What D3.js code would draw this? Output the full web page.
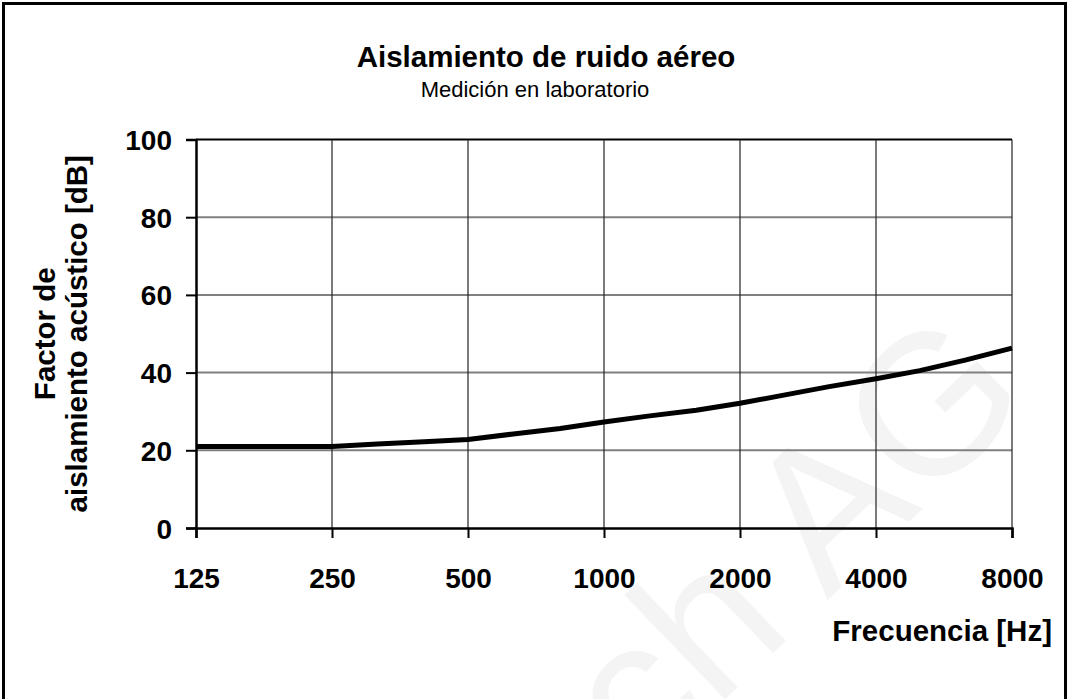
<!DOCTYPE html>
<html>
<head>
<meta charset="utf-8">
<script src="https://cdn.jsdelivr.net/npm/d3@7"></script>
<style>
	body { margin: 0; background: #fff; }
	text { font-family: "Liberation Sans", Arial, sans-serif; }
</style>
</head>
<body>
<script>
var svg_width = 1069, svg_height = 699;
var margin = { top: 139.5, right: 57, bottom: 171, left: 196 };
var width = svg_width - margin.left - margin.right;
var height = svg_height - margin.top - margin.bottom;

// third-octave bands, values
var freqs = [125, 160, 200, 250, 315, 400, 500, 630, 800, 1000, 1250, 1600, 2000, 2500, 3150, 4000, 5000, 6300, 8000];
var values = [21, 21, 21, 21, 21.6, 22.2, 22.8, 24.2, 25.6, 27.3, 28.8, 30.3, 32.1, 34.2, 36.4, 38.4, 40.5, 43.2, 46.3];
var xTicks = [125, 250, 500, 1000, 2000, 4000, 8000];
var yTicks = [0, 20, 40, 60, 80, 100];

var title = "Aislamiento de ruido aéreo";
var subtitle = "Medición en laboratorio";
var xLabel = "Frecuencia [Hz]";
var yLabel = ["Factor de", "aislamiento acústico [dB]"];

var x = d3.scaleLog().base(2).domain([125, 8000]).range([0, width]);
var y = d3.scaleLinear().domain([0, 100]).range([height, 0]);

var svg = d3.select("body").append("svg")
	.attr("width", svg_width)
	.attr("height", svg_height);

// faint watermark
svg.append("text")
	.attr("transform", "translate(1035,400) rotate(-44)")
	.attr("text-anchor", "end")
	.attr("fill", "#f4f4f4")
	.style("font-size", "200px")
	.text("ch AG");

// outer frame
svg.append("rect")
	.attr("x", 3.5).attr("y", 3.5)
	.attr("width", svg_width - 7)
	.attr("height", svg_height + 20)
	.attr("fill", "none")
	.attr("stroke", "#000")
	.attr("stroke-width", 3);

svg.append("text")
	.attr("x", 546).attr("y", 67)
	.attr("text-anchor", "middle")
	.style("font-size", "29.5px")
	.style("font-weight", "bold")
	.text(title);

svg.append("text")
	.attr("x", 535).attr("y", 97)
	.attr("text-anchor", "middle")
	.style("font-size", "22px")
	.text(subtitle);

var g = svg.append("g")
	.attr("transform", "translate(" + margin.left + "," + margin.top + ")");

// grid
g.selectAll(".hgrid")
	.data(yTicks.slice(1))
	.enter().append("line")
	.attr("class", "hgrid")
	.attr("x1", 0).attr("x2", width)
	.attr("y1", function (d) { return y(d); })
	.attr("y2", function (d) { return y(d); })
	.attr("stroke", function (d) { return d === 100 ? "#000" : "#808080"; })
	.attr("stroke-width", 2);

g.selectAll(".vgrid")
	.data(xTicks.slice(1))
	.enter().append("line")
	.attr("class", "vgrid")
	.attr("x1", function (d) { return x(d); })
	.attr("x2", function (d) { return x(d); })
	.attr("y1", 0).attr("y2", height)
	.attr("stroke", "#222")
	.attr("stroke-width", 1.2);

// axes
var xAxis = g.append("g")
	.attr("transform", "translate(0," + height + ")")
	.call(d3.axisBottom(x).tickValues(xTicks).tickFormat(d3.format("d")).tickSize(10).tickPadding(30));

var yAxis = g.append("g")
	.call(d3.axisLeft(y).tickValues(yTicks).tickSize(10).tickPadding(14));

[xAxis, yAxis].forEach(function (a) {
	a.select(".domain").attr("stroke-width", 2.5);
	a.selectAll(".tick line").attr("stroke-width", 2);
	a.selectAll(".tick text")
		.attr("fill", "#000")
		.style("font-family", "'Liberation Sans', Arial, sans-serif")
		.style("font-size", "28px")
		.style("font-weight", "bold");
});
xAxis.selectAll(".tick text").attr("dy", "0.71em");
yAxis.selectAll(".tick text").attr("dy", "0.36em");

// the curve
var line = d3.line()
	.x(function (d, i) { return x(freqs[i]); })
	.y(function (d) { return y(d); });

g.append("path")
	.datum(values)
	.attr("fill", "none")
	.attr("stroke", "#000")
	.attr("stroke-width", 5)
	.attr("stroke-linejoin", "round")
	.attr("d", line);

svg.append("text")
	.attr("x", 1052).attr("y", 641)
	.attr("text-anchor", "end")
	.style("font-size", "29.5px")
	.style("font-weight", "bold")
	.text(xLabel);

var yl = svg.append("text")
	.attr("transform", "translate(0," + (margin.top + height / 2) + ") rotate(-90)")
	.attr("text-anchor", "middle")
	.style("font-size", "29.5px")
	.style("font-weight", "bold");
yl.append("tspan").attr("x", 0).attr("y", 55).text(yLabel[0]);
yl.append("tspan").attr("x", 0).attr("y", 87).text(yLabel[1]);
</script>
</body>
</html>
